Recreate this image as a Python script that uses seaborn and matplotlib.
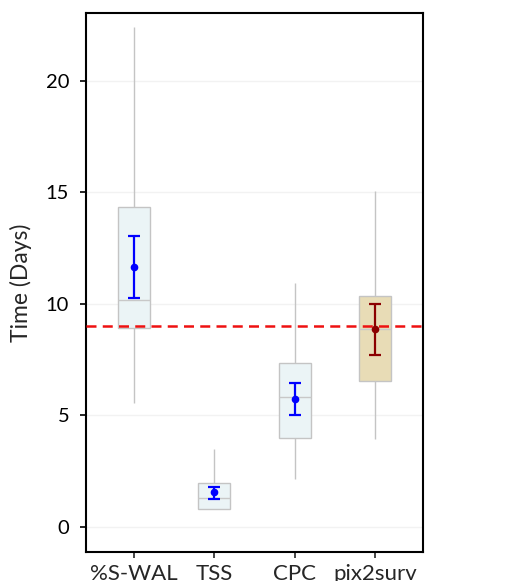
import numpy as np
import pandas as pd
import seaborn as sns
import matplotlib.pyplot as plt

# box stats: min, q1, median, q3, max
methods = ["%S-WAL", "TSS", "CPC", "pix2surv"]
swal = [5.55, 8.91, 10.18, 14.36, 22.43]
tss = [0.82, 0.82, 1.29, 1.96, 3.48]
cpc = [2.14, 4.00, 5.82, 7.34, 10.93]
pix = [3.93, 6.55, 8.89, 10.37, 15.04]

# mean and its interval
means = [11.67, 1.56, 5.74, 8.86]
err_lo = [10.27, 1.27, 5.02, 7.71]
err_hi = [13.06, 1.81, 6.44, 10.00]
threshold = 9.0

box_colors = ["#e9f5f8", "#e9f5f8", "#e9f5f8", "#f0e0ae"]
mean_colors = ["#0000ff", "#0000ff", "#0000ff", "#8b0000"]

df = pd.DataFrame({
    "method": np.repeat(methods, 5),
    "days": swal + tss + cpc + pix,
})

sns.set_style("white")
plt.rcParams["font.family"] = ["Lato", "DejaVu Sans"]

fig = plt.figure(figsize=(5.08, 5.81), dpi=100)
ax = fig.add_axes([0.169, 0.050, 0.664, 0.928])

ax.grid(True, color="#f2f2f2", linewidth=1.0, zorder=0)
ax.set_axisbelow(True)

sns.boxplot(
    data=df, x="method", y="days", hue="method", order=methods,
    palette=box_colors, legend=False, width=0.4, whis=(0, 100),
    linecolor="#c4c4c4", linewidth=1.0, ax=ax,
    medianprops={"color": "#c8c8c8", "linewidth": 1.0},
    capprops={"linewidth": 0},
)

ax.axhline(threshold, color="#ee1111", linestyle=(0, (4, 2.5)), linewidth=1.8, zorder=3)

for i, m in enumerate(means):
    ax.errorbar(i, m, yerr=[[m - err_lo[i]], [err_hi[i] - m]], fmt="o",
                color=mean_colors[i], markersize=4.5, elinewidth=1.6,
                capsize=4.2, capthick=1.6, zorder=4)

ax.set_xlim(-0.6, 3.6)
ax.set_ylim(-1.12, 23.05)
ax.set_yticks([0, 5, 10, 15, 20])
ax.set_xlabel("")
ax.set_ylabel("Time (Days)", fontsize=16.5, labelpad=10)
ax.tick_params(axis="y", labelsize=14.5, length=4, width=1.2, direction="out", left=True, colors="black", pad=8)
ax.tick_params(axis="x", labelsize=16, length=4, width=1.2, direction="out", bottom=True, pad=5)

for s in ax.spines.values():
    s.set_color("black")
    s.set_linewidth(1.5)

fig.savefig("out.png", dpi=100)
